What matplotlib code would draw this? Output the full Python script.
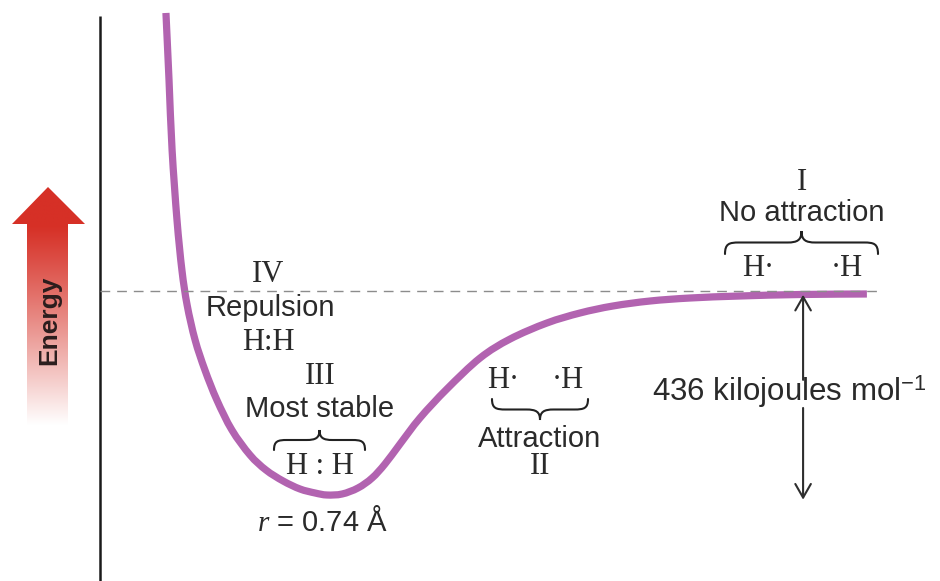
import numpy as np
import matplotlib
matplotlib.use("Agg")
import matplotlib.pyplot as plt
from matplotlib.path import Path
from matplotlib.patches import PathPatch, Polygon

plt.rcParams["mathtext.fontset"] = "custom"
plt.rcParams["mathtext.rm"] = "Liberation Sans"
plt.rcParams["mathtext.it"] = "Liberation Serif:italic"
plt.rcParams["mathtext.bf"] = "Liberation Sans:bold"

# H–H potential energy vs internuclear distance (r in Å, E in kJ/mol)
r_angstrom = [0.215, 0.225, 0.235, 0.251, 0.267, 0.284, 0.310, 0.342, 0.381,
              0.430, 0.489, 0.541, 0.597, 0.652, 0.701, 0.740, 0.789, 0.841,
              0.887, 0.929, 0.978, 1.043, 1.131, 1.239, 1.337, 1.457, 1.565,
              1.672, 1.793, 1.923, 2.086, 2.282, 2.500]
energy_kj = [594.2, 451.0, 301.4, 151.7, 44.9, -29.9, -104.7, -168.8, -233.0,
             -297.1, -350.5, -382.6, -406.1, -423.2, -431.7, -436.0, -433.9,
             -421.0, -399.7, -369.7, -327.0, -271.4, -209.4, -143.2, -102.6,
             -68.4, -47.0, -32.1, -21.4, -15.0, -10.7, -7.5, -6.4]

bond_length = 0.74      # Å
bond_energy = 436       # kJ/mol
r_dissociated = 2.5427  # end of the zero-energy reference line

SANS = ["Liberation Sans", "DejaVu Sans"]
SERIF = ["Liberation Serif", "DejaVu Serif"]
INK = "#2a2a2a"
PURPLE = "#B263B0"


def smooth_path(xs, ys):
    """Catmull-Rom style Bezier path passing through every point."""
    pts = np.column_stack([xs, ys]).astype(float)
    n = len(pts)
    verts = [pts[0]]
    codes = [Path.MOVETO]
    for i in range(n - 1):
        p0 = pts[i - 1] if i > 0 else pts[i]
        p1 = pts[i]
        p2 = pts[i + 1]
        p3 = pts[i + 2] if i + 2 < n else pts[i + 1]
        c1 = p1 + (p2 - p0) / 6.0
        c2 = p2 - (p3 - p1) / 6.0
        verts += [c1, c2, p2]
        codes += [Path.CURVE4] * 3
    return Path(verts, codes)


fig = plt.figure(figsize=(9.4, 5.81), dpi=100)

# main axes in physical units
ax = fig.add_axes([0, 0, 1, 1])
ax.set_xlim(-0.32599, 2.73833)
ax.set_ylim(-619.8, 621.9)
ax.axis("off")

# vertical energy axis
ax.plot([0, 0], [587.7, -619.8], color="#1a1a1a", lw=1.8, solid_capstyle="butt")

# zero-energy reference (separated atoms)
ax.plot([0, r_dissociated], [0, 0], color="#8c8c8c", lw=1.0, dashes=(7, 5))

# potential energy curve
ax.add_patch(PathPatch(smooth_path(r_angstrom, energy_kj), facecolor="none",
                       edgecolor=PURPLE, lw=5.2, joinstyle="round",
                       capstyle="butt"))

# bond-energy double arrow
r_arrow = 2.292
arrow_kw = dict(arrowstyle="->,head_length=0.7,head_width=0.4",
                color="#2e2e2e", lw=1.5, mutation_scale=14,
                shrinkA=0, shrinkB=0)
ax.annotate("", xy=(r_arrow, -8), xytext=(r_arrow, -190), arrowprops=arrow_kw)
ax.annotate("", xy=(r_arrow, -bond_energy - 10), xytext=(r_arrow, -250),
            arrowprops=arrow_kw)

# overlay in figure pixels for labels and decorations
ov = fig.add_axes([0, 0, 1, 1])
ov.set_xlim(0, 940)
ov.set_ylim(581, 0)
ov.axis("off")
ov.patch.set_alpha(0)

# red "Energy" arrow with a fade to white
arrow_poly = [(48, 187), (85, 224), (68, 224), (68, 425), (27, 425),
              (27, 224), (12, 224)]
ys = np.linspace(187, 425, 300)
t = np.clip((ys - 225) / (425 - 225), 0, 1) ** 1.1
red = np.array([214, 48, 38]) / 255.0
cols = red[None, :] * (1 - t[:, None]) + np.ones(3)[None, :] * t[:, None]
img = np.repeat(cols[:, None, :], 2, axis=1)
im = ov.imshow(img, extent=(12, 85, 425, 187), aspect="auto",
               interpolation="bilinear", zorder=1)
clip = Polygon(arrow_poly, closed=True, transform=ov.transData,
               facecolor="none", edgecolor="none")
ov.add_patch(clip)
im.set_clip_path(clip)
ov.set_xlim(0, 940)
ov.set_ylim(581, 0)
ov.text(49, 320, "Energy", rotation=90, ha="center", va="center",
        fontsize=19, fontweight="bold", color="#2b1d1d", family=SANS, zorder=3)


def brace(axis, x0, x1, y_end, y_tip, lw=1.5, color="#222222"):
    xc = (x0 + x1) / 2.0
    d = y_tip - y_end
    ym = y_end + d / 2.0
    q = min(14.0, (x1 - x0) / 7.0)
    verts = [(x0, y_end),
             (x0, y_end + d * 0.45), (x0 + q * 0.3, ym), (x0 + q, ym),
             (xc - q, ym),
             (xc - q * 0.3, ym), (xc, ym + d * 0.1), (xc, y_tip),
             (xc, ym + d * 0.1), (xc + q * 0.3, ym), (xc + q, ym),
             (x1 - q, ym),
             (x1 - q * 0.3, ym), (x1, y_end + d * 0.45), (x1, y_end)]
    codes = [Path.MOVETO,
             Path.CURVE4, Path.CURVE4, Path.CURVE4,
             Path.LINETO,
             Path.CURVE4, Path.CURVE4, Path.CURVE4,
             Path.CURVE4, Path.CURVE4, Path.CURVE4,
             Path.LINETO,
             Path.CURVE4, Path.CURVE4, Path.CURVE4]
    axis.add_patch(PathPatch(Path(verts, codes), facecolor="none",
                             edgecolor=color, lw=lw, capstyle="round"))


def sans(x, y, s, size=21, **kw):
    ov.text(x, y, s, ha="center", va="center", fontsize=size,
            color=INK, family=SANS, **kw)


def serif(x, y, s, size=22, **kw):
    ov.text(x, y, s, ha="center", va="center", fontsize=size,
            color=INK, family=SERIF, **kw)


# I: separated atoms
serif(802, 183, "I")
sans(802, 213, "No attraction")
brace(ov, 725, 878, 254, 231)
serif(758, 268, "H·")
serif(847, 268, "·H")

# IV: repulsion
serif(268, 275, "IV")
sans(270, 308, "Repulsion")
serif(268, 342, "H:H")

# III: equilibrium
serif(320, 377, "III")
sans(320, 409, "Most stable")
brace(ov, 274, 365, 450, 430)
serif(320, 466, "H : H")
sans(322, 522, r"$r$ = %.2f Å" % bond_length)

# II: attraction
serif(503, 381, "H·")
serif(568, 381, "·H")
brace(ov, 492, 588, 399, 420)
sans(540, 439, "Attraction")
serif(540, 466, "II")

# bond energy label
sans(789, 392, r"%d kilojoules mol$^{-1}$" % bond_energy, size=22.5)

fig.savefig("out.png", dpi=100)
